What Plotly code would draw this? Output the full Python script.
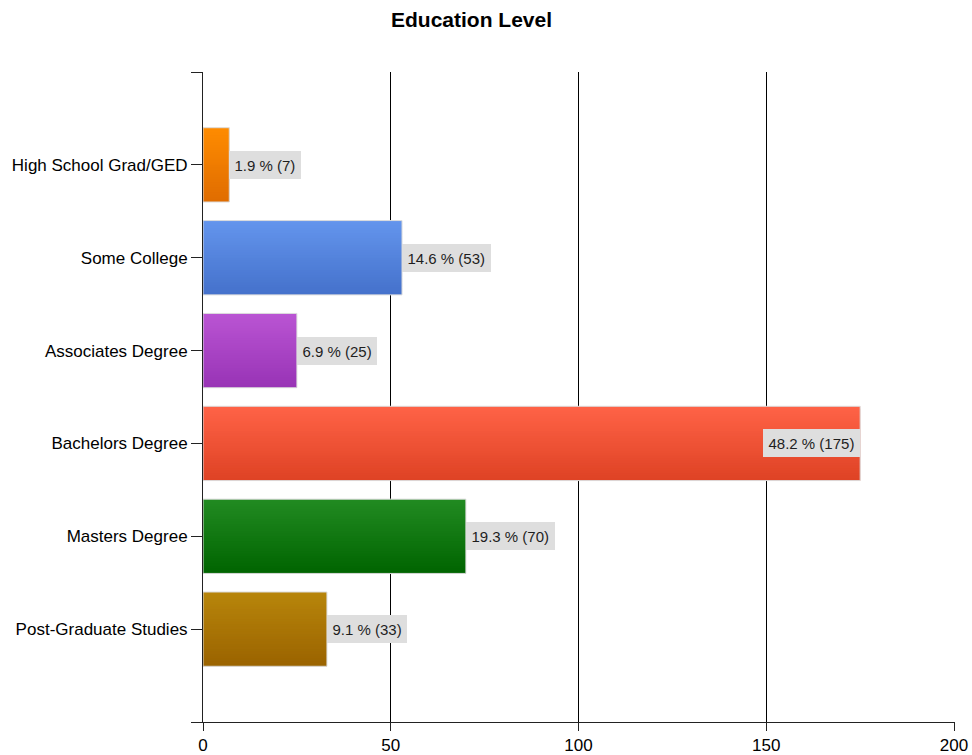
import plotly.graph_objects as go

# Survey responses by highest education level
categories = [
    "High School Grad/GED",
    "Some College",
    "Associates Degree",
    "Bachelors Degree",
    "Masters Degree",
    "Post-Graduate Studies",
]
counts = [7, 53, 25, 175, 70, 33]
percents = [1.9, 14.6, 6.9, 48.2, 19.3, 9.1]
x_ticks = [0, 50, 100, 150, 200]

# Vertical gradient per bar: lighter at the top, darker at the bottom
top_colors = ["#FF8C00", "#6495ED", "#BA55D3", "#FF6347", "#228B22", "#B8860B"]
bottom_colors = ["#DF6C00", "#4471CB", "#9833B6", "#DE4224", "#006400", "#9A6300"]

FONT = "Liberation Sans, Arial, sans-serif"
BAR_W = 0.8
SLICES = 30


def hex_to_rgb(h):
    h = h.lstrip("#")
    return tuple(int(h[i:i + 2], 16) for i in (0, 2, 4))


def mix(c1, c2, t):
    a, b = hex_to_rgb(c1), hex_to_rgb(c2)
    return "rgb({},{},{})".format(*[round(a[i] + (b[i] - a[i]) * t) for i in range(3)])


positions = list(range(len(categories)))
fig = go.Figure()

step = BAR_W / SLICES
for k in range(SLICES):
    t = (k + 0.5) / SLICES
    fig.add_trace(go.Bar(
        x=counts,
        y=positions,
        orientation="h",
        offset=-BAR_W / 2 + k * step,
        # each slice overlaps the next one so no seams appear between them
        width=step * (2 if k < SLICES - 1 else 1),
        marker=dict(color=[mix(a, b, t) for a, b in zip(top_colors, bottom_colors)],
                    line=dict(width=0)),
        hoverinfo="skip",
        showlegend=False,
    ))

# Thin light outline around each bar, also carrying the hover text
fig.add_trace(go.Bar(
    x=counts,
    y=positions,
    orientation="h",
    width=BAR_W,
    marker=dict(color="rgba(0,0,0,0)", line=dict(color="#dcdcdc", width=1)),
    customdata=[[c, p] for c, p in zip(categories, percents)],
    hovertemplate="%{customdata[0]}: %{customdata[1]} % (%{x})<extra></extra>",
    showlegend=False,
))

x_max = x_ticks[-1]
for i, (c, p) in enumerate(zip(counts, percents)):
    inside = c > 0.8 * x_max
    fig.add_annotation(
        x=c, y=i, xref="x", yref="y",
        text=f"{p} % ({c})",
        showarrow=False,
        xanchor="right" if inside else "left",
        yanchor="middle",
        bgcolor="#dedede",
        borderpad=5.5,
        borderwidth=0,
        font=dict(family=FONT, size=15, color="#1e1e1e"),
    )

fig.update_layout(
    width=972,
    height=755,
    margin=dict(l=203, r=17, t=72, b=33, autoexpand=False),
    paper_bgcolor="white",
    plot_bgcolor="white",
    barmode="overlay",
    showlegend=False,
    title=dict(
        text="<b>Education Level</b>",
        x=471.5 / 972, xanchor="center", xref="container",
        y=1 - 20 / 755, yanchor="middle", yref="container",
        font=dict(family=FONT, size=21, color="#000000"),
    ),
    xaxis=dict(
        # a hair past the last tick so its grid line is still drawn
        range=[0, x_max * 1.00125],
        tickvals=x_ticks,
        ticktext=[str(v) for v in x_ticks],
        showgrid=True, gridcolor="#000000", gridwidth=1,
        zeroline=False,
        showline=True, linecolor="#222222", linewidth=1,
        ticks="outside", ticklen=8, tickcolor="#222222",
        tickfont=dict(family=FONT, size=17, color="#000000"),
        automargin=False,
        fixedrange=True,
    ),
    yaxis=dict(
        range=[len(categories), -1],
        tickvals=[-1] + positions + [len(categories)],
        ticktext=[""] + categories + [""],
        showgrid=False, zeroline=False,
        showline=True, linecolor="#222222", linewidth=1,
        ticks="outside", ticklen=11, tickcolor="#222222",
        tickfont=dict(family=FONT, size=17, color="#000000"),
        automargin=False,
        fixedrange=True,
    ),
)

fig.write_html("out.html")
